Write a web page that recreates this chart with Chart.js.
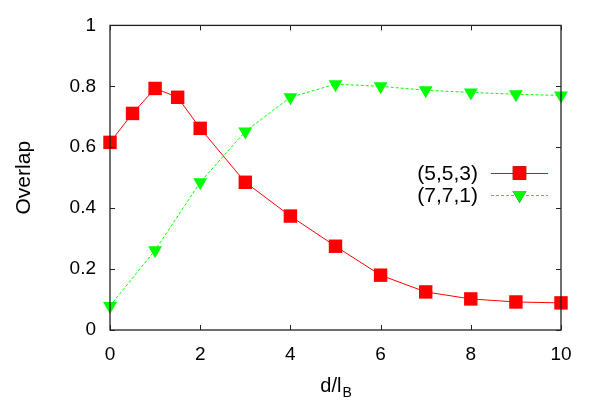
<!DOCTYPE html>
<html><head><meta charset="utf-8">
<script src="https://cdn.jsdelivr.net/npm/chart.js@4.4.0/dist/chart.umd.min.js"></script>
<style>html,body{margin:0;padding:0;background:#fff}#wrap{width:598px;height:419px}</style>
</head><body><div id="wrap"><canvas id="c" width="598" height="419"></canvas></div>
<script>
// ---- data ----
const xRed = [0, 0.5, 1, 1.5, 2, 3, 4, 5, 6, 7, 8, 9, 10];
const yRed = [0.616, 0.711, 0.793, 0.764, 0.662, 0.485, 0.374, 0.275, 0.180, 0.125, 0.102, 0.092, 0.089];
const xGreen = [0, 1, 2, 3, 4, 5, 6, 7, 8, 9, 10];
const yGreen = [0.079, 0.262, 0.485, 0.652, 0.764, 0.807, 0.800, 0.787, 0.780, 0.774, 0.770];
const seriesLabels = ['(5,5,3)', '(7,7,1)'];
const xTicks = [0, 2, 4, 6, 8, 10];
const yTicks = [0, 0.2, 0.4, 0.6, 0.8, 1];
const xTitleMain = 'd/l';
const xTitleSub = 'B';
const yTitle = 'Overlap';

const FONT = '"Liberation Sans", Arial, Helvetica, sans-serif';
const AXIS_COLOR = '#222';

function pts(xs, ys) { return xs.map((x, i) => ({ x: x, y: ys[i] })); }

const frameAndLabels = {
  id: 'frameAndLabels',
  afterDatasetsDraw(chart) {
    const { ctx, chartArea: a, scales } = chart;
    const xs = scales.x, ys = scales.y;
    ctx.save();
    ctx.strokeStyle = AXIS_COLOR;
    ctx.lineWidth = 1.3;
    ctx.strokeRect(a.left, a.top, a.right - a.left, a.bottom - a.top);
    const tl = 5;
    ctx.beginPath();
    xTicks.forEach(v => {
      const px = Math.round(xs.getPixelForValue(v)) + 0.5;
      ctx.moveTo(px, a.bottom); ctx.lineTo(px, a.bottom - tl);
      ctx.moveTo(px, a.top); ctx.lineTo(px, a.top + tl);
    });
    yTicks.forEach(v => {
      const py = Math.round(ys.getPixelForValue(v)) + 0.5;
      ctx.moveTo(a.left, py); ctx.lineTo(a.left + tl, py);
      ctx.moveTo(a.right, py); ctx.lineTo(a.right - tl, py);
    });
    ctx.lineWidth = 1;
    ctx.stroke();

    // axis titles
    ctx.fillStyle = '#000';
    ctx.font = '20px ' + FONT;
    ctx.textBaseline = 'alphabetic';
    const mainW = ctx.measureText(xTitleMain).width;
    ctx.font = '14px ' + FONT;
    const subW = ctx.measureText(xTitleSub).width;
    const cx = (a.left + a.right) / 2;
    const startX = cx - (mainW + subW) / 2;
    ctx.font = '20px ' + FONT;
    ctx.textAlign = 'left';
    ctx.fillText(xTitleMain, startX, 392);
    ctx.font = '14px ' + FONT;
    ctx.fillText(xTitleSub, startX + mainW + 1, 397);

    ctx.save();
    ctx.translate(24, (a.top + a.bottom) / 2);
    ctx.rotate(-Math.PI / 2);
    ctx.font = '21px ' + FONT;
    ctx.textAlign = 'center';
    ctx.textBaseline = 'middle';
    ctx.fillText(yTitle, 0, 0);
    ctx.restore();

    // legend
    const ds = chart.data.datasets;
    const rows = [173, 195];
    ctx.font = '21px ' + FONT;
    ctx.textAlign = 'right';
    ctx.textBaseline = 'middle';
    ds.forEach((d, i) => {
      const y = rows[i];
      ctx.fillStyle = '#000';
      ctx.fillText(d.label, 478, y + 1);
      ctx.strokeStyle = d.borderColor;
      ctx.lineWidth = 1;
      ctx.setLineDash(d.borderDash || []);
      ctx.beginPath();
      ctx.moveTo(491, y + 0.5); ctx.lineTo(548, y + 0.5);
      ctx.stroke();
      ctx.setLineDash([]);
      Chart.helpers.drawPoint(ctx, {
        pointStyle: d.pointStyle, radius: d.pointRadius, rotation: d.pointRotation || 0,
        borderWidth: 0
      }, 519.5, y);
      ctx.fillStyle = d.pointBackgroundColor;
      ctx.fill();
    });
    ctx.restore();
  }
};

new Chart(document.getElementById('c'), {
  type: 'scatter',
  data: {
    datasets: [
      {
        label: seriesLabels[0], data: pts(xRed, yRed), showLine: true,
        borderColor: '#ff0000', borderWidth: 1, pointStyle: 'rect', pointRadius: 9.5,
        pointBackgroundColor: '#ff0000', pointBorderColor: '#ff0000', pointBorderWidth: 0,
        clip: false, order: 1
      },
      {
        label: seriesLabels[1], data: pts(xGreen, yGreen), showLine: true,
        borderColor: '#00ff00', borderWidth: 1, borderDash: [3, 2],
        pointStyle: 'triangle', pointRotation: 180, pointRadius: 8,
        pointBackgroundColor: '#00ff00', pointBorderColor: '#00ff00', pointBorderWidth: 0,
        clip: false, order: 2
      }
    ]
  },
  options: {
    responsive: false, animation: false, devicePixelRatio: 1,
    layout: { padding: { left: 0, right: 37, top: 25, bottom: 0 } },
    plugins: { legend: { display: false }, tooltip: { enabled: false } },
    elements: { line: { tension: 0 } },
    scales: {
      x: {
        type: 'linear', min: 0, max: 10,
        afterBuildTicks: s => { s.ticks = xTicks.map(v => ({ value: v })); },
        afterFit: s => { s.height = 89; },
        grid: { display: false, drawTicks: false }, border: { display: false },
        ticks: { padding: 13, color: '#000', font: { family: FONT, size: 19 }, maxRotation: 0,
          callback: v => String(v) }
      },
      y: {
        type: 'linear', min: 0, max: 1,
        afterBuildTicks: s => { s.ticks = yTicks.map(v => ({ value: v })); },
        afterFit: s => { s.width = 110; },
        grid: { display: false, drawTicks: false }, border: { display: false },
        ticks: { padding: 14, color: '#000', font: { family: FONT, size: 19 },
          callback: v => String(Math.round(v * 10) / 10) }
      }
    }
  },
  plugins: [frameAndLabels]
});
</script></body></html>
